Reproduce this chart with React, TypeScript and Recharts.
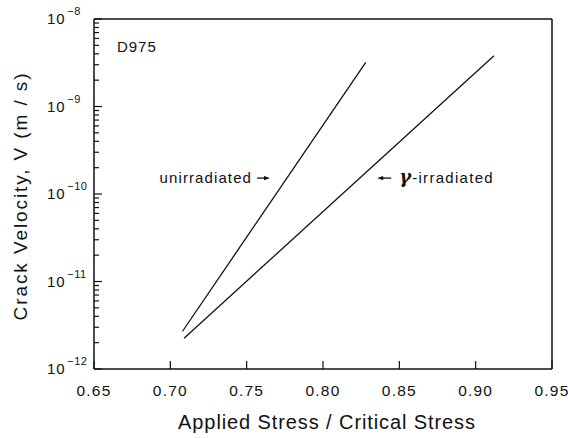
import { LineChart, Line, XAxis, YAxis, ReferenceDot } from 'recharts'

// stress ratio ticks (x) and log decades (y)
const stressTicks = [0.65, 0.7, 0.75, 0.8, 0.85, 0.9, 0.95]
const decades = [-12, -11, -10, -9, -8]
const minorSteps = [2, 3, 4, 5, 6, 7, 8, 9]

// series (straight lines on semi-log axes)
const unirrStress = [0.708, 0.828]
const unirrVelocity = [2.7e-12, 3.2e-9]
const gammaStress = [0.709, 0.912]
const gammaVelocity = [2.25e-12, 3.8e-9]

// annotation anchors
const sampleLabel = { stress: 0.665, velocity: 4.2e-9, text: 'D975' }
const unirrNote = { stress: 0.7653, velocity: 1.52e-10, text: 'unirradiated' }
const gammaNote = { stress: 0.8355, velocity: 1.52e-10, text: '-irradiated' }

const FONT = "'Liberation Sans', Arial, Helvetica, sans-serif"
const INK = '#111'
const TS = 8 // recharts tick offset, compensated in the custom ticks

const unirrData = unirrStress.map((s, i) => ({ s, v: unirrVelocity[i] }))
const gammaData = gammaStress.map((s, i) => ({ s, v: gammaVelocity[i] }))

const yTicks = decades.flatMap(d =>
  d < -8 ? [10 ** d, ...minorSteps.map(m => m * 10 ** d)] : [10 ** d]
)

function isDecade(v: number) {
  const l = Math.log10(v)
  return Math.abs(l - Math.round(l)) < 1e-6
}

function LeftTick(props: any) {
  const { payload } = props
  const x = Number(props.x) + TS
  const y = Number(props.y)
  const major = isDecade(payload.value)
  const exp = Math.round(Math.log10(payload.value))
  return (
    <g>
      <line x1={x} x2={x + (major ? 8 : 5)} y1={y} y2={y} stroke={INK} strokeWidth={1.2} />
      {major && (
        <text x={x - 47} y={y + 5} fill={INK} fontSize={15} fontFamily={FONT} letterSpacing={0.8}>
          10
          <tspan dx={2} dy={-9} fontSize={11} letterSpacing={0.5}>
            {'−' + Math.abs(exp)}
          </tspan>
        </text>
      )}
    </g>
  )
}

function RightTick(props: any) {
  const x = Number(props.x) - TS
  const y = Number(props.y)
  const major = isDecade(props.payload.value)
  return <line x1={x} x2={x - (major ? 8 : 5)} y1={y} y2={y} stroke={INK} strokeWidth={1.2} />
}

function BottomTick(props: any) {
  const x = Number(props.x)
  const y = Number(props.y) - TS
  return (
    <g>
      <line x1={x} x2={x} y1={y} y2={y - 8} stroke={INK} strokeWidth={1.2} />
      <text x={x} y={y + 27} textAnchor="middle" fill={INK} fontSize={15.5} fontFamily={FONT} letterSpacing={1.2}>
        {props.payload.value.toFixed(2)}
      </text>
    </g>
  )
}

function TopTick(props: any) {
  const x = Number(props.x)
  const y = Number(props.y) + TS
  return <line x1={x} x2={x} y1={y} y2={y + 7} stroke={INK} strokeWidth={1.2} />
}

function Arrow({ tail, tip, y }: { tail: number; tip: number; y: number }) {
  const dir = tip > tail ? 1 : -1
  return (
    <g>
      <line x1={tail} x2={tip - dir * 4} y1={y} y2={y} stroke={INK} strokeWidth={1.3} />
      <path d={`M${tip},${y} L${tip - dir * 6},${y - 2.2} L${tip - dir * 6},${y + 2.2} Z`} fill={INK} />
    </g>
  )
}

export default function App() {
  const axisLine = { stroke: INK, strokeWidth: 1.5 }
  return (
    <div style={{ position: 'absolute', left: 0, top: 0, background: '#fff' }}>
      <LineChart width={568} height={438} margin={{ top: 18, right: 15, bottom: 0, left: 0 }}>
        <XAxis
          xAxisId="b"
          dataKey="s"
          type="number"
          domain={[0.65, 0.95]}
          ticks={stressTicks}
          interval={0}
          height={69}
          tickSize={TS}
          tickMargin={0}
          tickLine={false}
          axisLine={axisLine}
          tick={<BottomTick />}
          label={{
            position: 'insideBottom',
            content: (p: any) => {
              const vb = p.viewBox || { x: 94, y: 369, width: 458, height: 69 }
              return (
                <text
                  x={vb.x + vb.width / 2 + 4}
                  y={vb.y + 60}
                  textAnchor="middle"
                  fill={INK}
                  fontSize={20}
                  fontFamily={FONT}
                  letterSpacing={0.9}
                >
                  Applied Stress / Critical Stress
                </text>
              )
            },
          }}
        />
        <XAxis
          xAxisId="t"
          orientation="top"
          dataKey="s"
          type="number"
          domain={[0.65, 0.95]}
          ticks={stressTicks}
          interval={0}
          height={1}
          tickSize={TS}
          tickMargin={0}
          tickLine={false}
          axisLine={axisLine}
          tick={<TopTick />}
        />
        <YAxis
          yAxisId="l"
          dataKey="v"
          scale="log"
          type="number"
          domain={[1e-12, 1e-8]}
          ticks={yTicks}
          interval={0}
          width={94}
          tickSize={TS}
          tickMargin={0}
          tickLine={false}
          axisLine={axisLine}
          tick={<LeftTick />}
          label={{
            position: 'insideLeft',
            content: (p: any) => {
              const vb = p.viewBox || { x: 0, y: 19, width: 94, height: 350 }
              const cx = vb.x + 27
              const cy = vb.y + vb.height / 2 + 2
              return (
                <text
                  x={cx}
                  y={cy}
                  transform={`rotate(-90, ${cx}, ${cy})`}
                  textAnchor="middle"
                  fill={INK}
                  fontSize={19}
                  fontFamily={FONT}
                  letterSpacing={1.9}
                >
                  Crack Velocity, V (m / s)
                </text>
              )
            },
          }}
        />
        <YAxis
          yAxisId="r"
          orientation="right"
          dataKey="v"
          scale="log"
          type="number"
          domain={[1e-12, 1e-8]}
          ticks={yTicks}
          interval={0}
          width={1}
          tickSize={TS}
          tickMargin={0}
          tickLine={false}
          axisLine={axisLine}
          tick={<RightTick />}
        />
        <Line
          xAxisId="b"
          yAxisId="l"
          data={unirrData}
          dataKey="v"
          type="linear"
          stroke={INK}
          strokeWidth={1.3}
          dot={false}
          isAnimationActive={false}
        />
        <Line
          xAxisId="b"
          yAxisId="l"
          data={gammaData}
          dataKey="v"
          type="linear"
          stroke={INK}
          strokeWidth={1.3}
          dot={false}
          isAnimationActive={false}
        />
        <ReferenceDot
          xAxisId="b"
          yAxisId="l"
          x={sampleLabel.stress}
          y={sampleLabel.velocity}
          r={1}
          shape={(p: any) => (
            <text x={p.cx} y={p.cy} fill={INK} fontSize={15} fontFamily={FONT} letterSpacing={1}>
              {sampleLabel.text}
            </text>
          )}
        />
        <ReferenceDot
          xAxisId="b"
          yAxisId="l"
          x={unirrNote.stress}
          y={unirrNote.velocity}
          r={1}
          shape={(p: any) => (
            <g>
              <text x={p.cx - 18} y={p.cy + 5} textAnchor="end" fill={INK} fontSize={15} fontFamily={FONT} letterSpacing={1.1}>
                {unirrNote.text}
              </text>
              <Arrow tail={p.cx - 13} tip={p.cx} y={p.cy} />
            </g>
          )}
        />
        <ReferenceDot
          xAxisId="b"
          yAxisId="l"
          x={gammaNote.stress}
          y={gammaNote.velocity}
          r={1}
          shape={(p: any) => (
            <g>
              <Arrow tail={p.cx + 14} tip={p.cx} y={p.cy} />
              <text x={p.cx + 22} y={p.cy + 5} fill={INK} fontSize={18} fontFamily="'DejaVu Serif', serif" fontStyle="italic" fontWeight="bold">
                γ
              </text>
              <text x={p.cx + 35} y={p.cy + 5} fill={INK} fontSize={15} fontFamily={FONT} letterSpacing={1.3}>
                {gammaNote.text}
              </text>
            </g>
          )}
        />
      </LineChart>
    </div>
  )
}
